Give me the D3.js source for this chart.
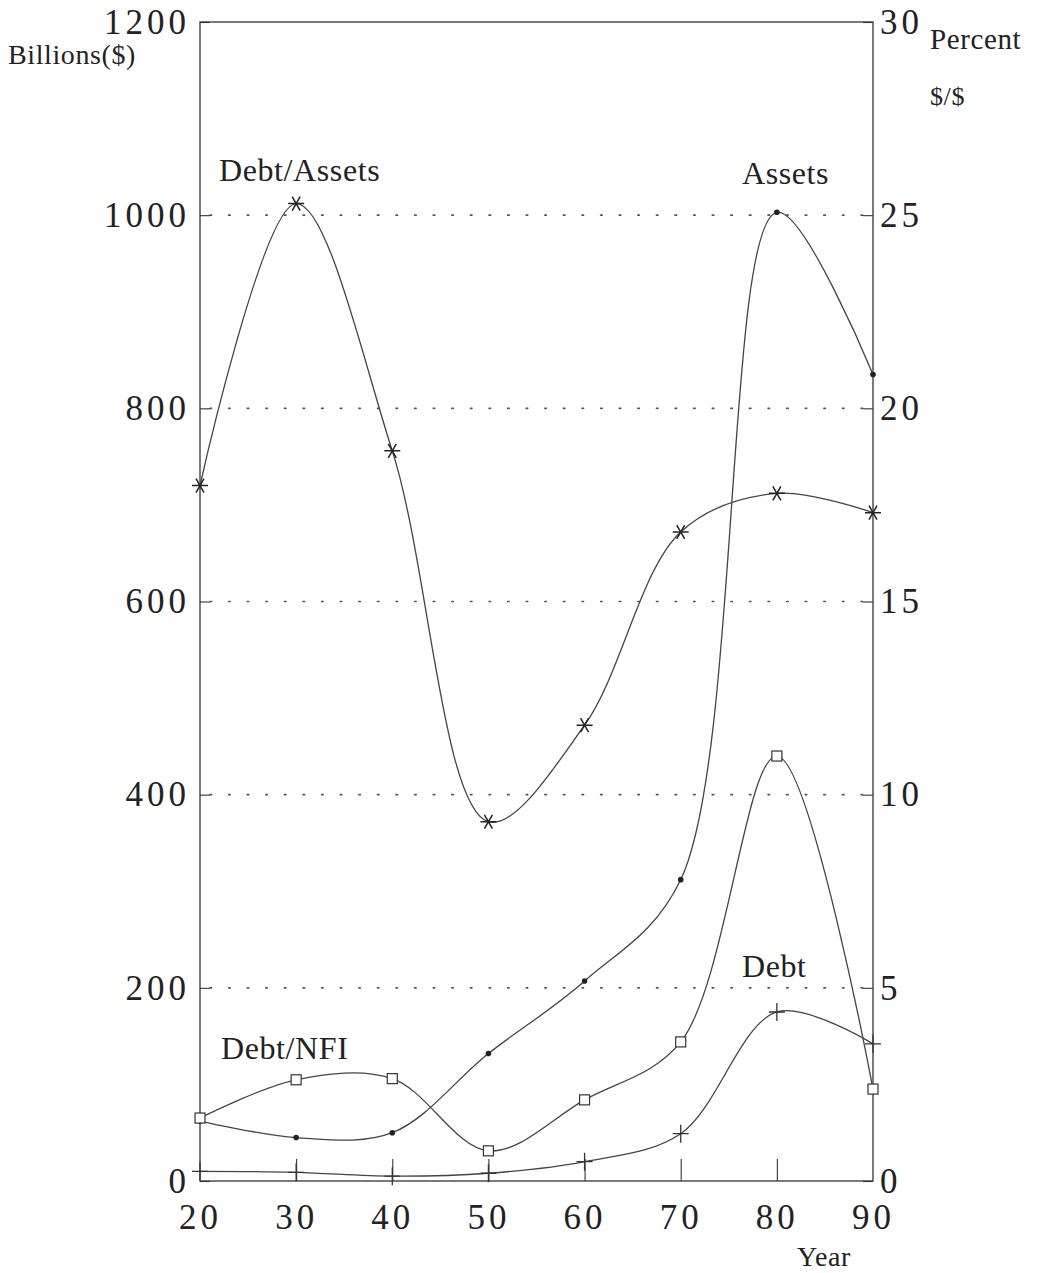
<!DOCTYPE html>
<html><head><meta charset="utf-8">
<script src="https://cdn.jsdelivr.net/npm/d3@7"></script>
<style>
body{margin:0;background:#fff;}
</style></head>
<body><svg id="c" width="1042" height="1273"></svg>
<script>
const years = [20,30,40,50,60,70,80,90];
const debtAssetsPct = [18.0,25.3,18.9,9.3,11.8,16.8,17.8,17.3];
const assetsBil = [62,45,50,132,207,312,1003,835];
const debtNfiPct = [1.63,2.62,2.65,0.78,2.1,3.6,11.0,2.38];
const debtBil = [10,9,5,8,20,49,175,142];
const leftTicks = [0,200,400,600,800,1000,1200];
const rightTicks = [0,5,10,15,20,25,30];
const xTicks = [20,30,40,50,60,70,80,90];
const gridTicks = [200,400,600,800,1000];

const FONT = "'Liberation Serif','Times New Roman',serif";
const svg = d3.select("#c");
const L=200,R=873,T=22,B=1181;
const x = d3.scaleLinear().domain([20,90]).range([L,R]);
const yL = d3.scaleLinear().domain([0,1200]).range([B,T]);
const yR = d3.scaleLinear().domain([0,30]).range([B,T]);
const ink="#333";

// grid
svg.append("g").selectAll("line").data(gridTicks).join("line")
  .attr("x1",L+10).attr("x2",R-10).attr("y1",d=>yL(d)).attr("y2",d=>yL(d))
  .attr("stroke","#555").attr("stroke-width",1.6).attr("stroke-dasharray","1.6,17").attr("stroke-linecap","round");

// frame
svg.append("rect").attr("x",L).attr("y",T).attr("width",R-L).attr("height",B-T)
  .attr("fill","none").attr("stroke",ink).attr("stroke-width",1.3);

// axes
const ax = svg.append("g").attr("transform",`translate(${L},0)`)
  .call(d3.axisLeft(yL).tickValues(leftTicks).tickSize(-10).tickPadding(10).tickFormat(d3.format("d")));
const ar = svg.append("g").attr("transform",`translate(${R},0)`)
  .call(d3.axisRight(yR).tickValues(rightTicks).tickSize(-10).tickPadding(7).tickFormat(d3.format("d")));
const ab = svg.append("g").attr("transform",`translate(0,${B})`)
  .call(d3.axisBottom(x).tickValues(xTicks).tickSize(-22).tickPadding(22).tickFormat(d3.format("d")));
[ax,ar,ab].forEach(a=>{
  a.attr("font-family",null).attr("font-size",null);
  a.select(".domain").remove();
  a.selectAll(".tick line").attr("stroke",ink).attr("stroke-width",1.1);
  a.selectAll(".tick text").style("font-family",FONT).style("font-size","35px")
   .style("letter-spacing","4px").attr("fill","#222");
});
ax.selectAll(".tick text").attr("dy","0.32em");
ar.selectAll(".tick text").attr("dy","0.32em");
ab.selectAll(".tick text").attr("dy","0.75em");
ab.selectAll(".tick").filter(d=>d===20||d===90).select("line").remove();

// series
const curve = d3.curveCatmullRom.alpha(0.5);
const line = (ys,sc)=>d3.line().x((d,i)=>x(years[i])).y(d=>sc(d)).curve(curve)(ys);
const series = [
  {v:debtAssetsPct, s:yR, m:"star"},
  {v:assetsBil, s:yL, m:"dot"},
  {v:debtNfiPct, s:yR, m:"square"},
  {v:debtBil, s:yL, m:"plus"}
];
series.forEach(se=>{
  svg.append("path").attr("d",line(se.v,se.s)).attr("fill","none")
    .attr("stroke","#444").attr("stroke-width",1.3);
});
series.forEach(se=>{
  const mg = svg.append("g");
  se.v.forEach((d,i)=>{
    const cx=x(years[i]), cy=se.s(d);
    if(se.m==="dot"){
      mg.append("circle").attr("cx",cx).attr("cy",cy).attr("r",2.8).attr("fill","#222");
    } else if(se.m==="square"){
      mg.append("rect").attr("x",cx-5).attr("y",cy-5).attr("width",10).attr("height",10)
        .attr("fill","#fff").attr("stroke","#333").attr("stroke-width",1.2);
    } else if(se.m==="plus"){
      mg.append("path").attr("d",`M${cx-8},${cy}H${cx+8}M${cx},${cy-9}V${cy+9}`)
        .attr("stroke","#333").attr("stroke-width",1.3);
    } else {
      const r=8; let p="";
      [0,60,120].forEach(a=>{const t=a*Math.PI/180;p+=`M${cx-r*Math.cos(t)},${cy-r*Math.sin(t)}L${cx+r*Math.cos(t)},${cy+r*Math.sin(t)}`;});
      mg.append("path").attr("d",p).attr("stroke","#222").attr("stroke-width",1.5);
    }
  });
});

// labels
const lab=(t,xx,yy,fs)=>svg.append("text").attr("x",xx).attr("y",yy)
  .style("font-family",FONT).style("font-size",fs+"px").style("letter-spacing","0.6px").attr("fill","#222").text(t);
lab("Billions($)",8,64,28);
lab("Percent",930,49,29);
lab("$/$",930,105,26);
lab("Debt/Assets",219,181,32);
lab("Assets",742,184,32);
lab("Debt",742,977,32);
lab("Debt/NFI",221,1059,32);
lab("Year",797,1266,28);
</script></body></html>
